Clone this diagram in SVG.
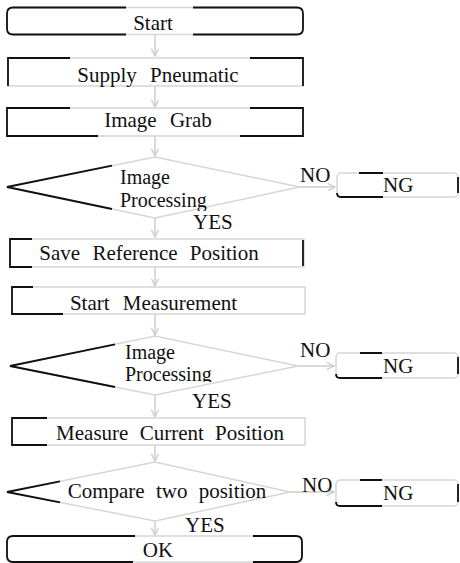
<svg xmlns="http://www.w3.org/2000/svg" width="460" height="563" viewBox="0 0 460 563">
<defs>
<marker id="chev" viewBox="0 0 10 10" refX="9" refY="5" markerWidth="9" markerHeight="9" markerUnits="userSpaceOnUse" orient="auto">
<path d="M1,1 L9,5 L1,9" fill="none" stroke="#cdcdcd" stroke-width="1.5"/>
</marker>
<clipPath id="c1"><rect x="0" y="150" width="300" height="61"/></clipPath>
<clipPath id="c2"><rect x="0" y="330" width="300" height="52"/></clipPath>
</defs>
<rect width="460" height="563" fill="#fff"/>

<g id="connectors" fill="none" stroke="#cdcdcd" stroke-width="1.5" marker-end="url(#chev)">
<line x1="155" y1="35" x2="155" y2="56"/>
<line x1="155" y1="86" x2="155" y2="107"/>
<line x1="155" y1="136" x2="155" y2="156"/>
<line x1="155" y1="218" x2="155" y2="237"/>
<line x1="155" y1="267" x2="155" y2="286"/>
<line x1="155" y1="314" x2="155" y2="335"/>
<line x1="155" y1="395" x2="155" y2="417"/>
<line x1="155" y1="445" x2="155" y2="461"/>
<line x1="155" y1="521" x2="155" y2="535"/>
<line x1="300" y1="187" x2="335" y2="187"/>
<line x1="298" y1="366" x2="334" y2="366"/>
<line x1="290" y1="492" x2="334" y2="492"/>
</g>
<g id="connector-labels" font-family="Liberation Serif" font-size="21" fill="#111">
<text x="300" y="182">NO</text>
<text x="193" y="229">YES</text>
<text x="300" y="357">NO</text>
<text x="192" y="408">YES</text>
<text x="302" y="492">NO</text>
<text x="185" y="532">YES</text>
</g>

<g id="start">
<rect x="7" y="7.5" width="296" height="27" rx="6" fill="none" stroke="#d6d6d6" stroke-width="1.5"/>
<path d="M126,7.5 H13 Q7,7.5 7,13.5 V28.5 Q7,34.5 13,34.5 H126 M193,7.5 H297 Q303,7.5 303,13.5 V28.5 Q303,34.5 297,34.5 H193" fill="none" stroke="#111" stroke-width="1.8"/>
<text font-family="Liberation Serif" font-size="21" fill="#111" text-anchor="middle" x="153" y="30">Start</text>
</g>

<g id="supply">
<rect x="8" y="58" width="295" height="28" fill="none" stroke="#d6d6d6" stroke-width="1.5"/>
<path d="M70,58 H8 V86 M250,58 H303 V86" fill="none" stroke="#111" stroke-width="1.8"/>
<text font-family="Liberation Serif" font-size="21" fill="#111" text-anchor="middle" x="158" y="82">Supply<tspan dx="8"> Pneumatic</tspan></text>
</g>

<g id="grab">
<rect x="7" y="108" width="296" height="28" fill="none" stroke="#d6d6d6" stroke-width="1.5"/>
<path d="M70,108 H7 V136 H98 M250,108 H303 V136 H240" fill="none" stroke="#111" stroke-width="1.8"/>
<text font-family="Liberation Serif" font-size="21" fill="#111" text-anchor="middle" x="158" y="127">Image<tspan dx="8"> Grab</tspan></text>
</g>

<g id="proc1">
<polygon points="7,187 155,157 300,187 155,218" fill="none" stroke="#d6d6d6" stroke-width="1.5"/>
<path d="M112,165.7 L7,187 L112,209" fill="none" stroke="#111" stroke-width="1.8"/>
<g clip-path="url(#c1)" font-family="Liberation Serif" font-size="20" fill="#111">
<text x="120" y="184">Image</text>
<text x="120" y="207">Processing</text>
</g>
</g>

<g id="ng1">
<rect x="337" y="173" width="121" height="24" rx="4" fill="none" stroke="#d6d6d6" stroke-width="1.5"/>
<path d="M359,173 H383 M337,193 Q337,197 341,197 H383 M458,177 V193" fill="none" stroke="#111" stroke-width="1.8"/>
<text font-family="Liberation Serif" font-size="21" fill="#111" x="383" y="192">NG</text>
</g>

<g id="save">
<rect x="10" y="239" width="294" height="28" fill="none" stroke="#d6d6d6" stroke-width="1.5"/>
<path d="M32,239 H10 V267 H32 M303,240 V266" fill="none" stroke="#111" stroke-width="1.8"/>
<text font-family="Liberation Serif" font-size="21" fill="#111" text-anchor="middle" x="149" y="260">Save<tspan dx="7"> Reference</tspan><tspan dx="7"> Position</tspan></text>
</g>

<g id="startmeas">
<rect x="12" y="287" width="293" height="27" fill="none" stroke="#d6d6d6" stroke-width="1.5"/>
<path d="M33,287 H12 V314 H63" fill="none" stroke="#111" stroke-width="1.8"/>
<text font-family="Liberation Serif" font-size="21" fill="#111" text-anchor="middle" x="153.5" y="310">Start<tspan dx="8"> Measurement</tspan></text>
</g>

<g id="proc2">
<polygon points="10,366 155,336 298,366 155,395" fill="none" stroke="#d6d6d6" stroke-width="1.5"/>
<path d="M115,344.3 L10,366 L115,387" fill="none" stroke="#111" stroke-width="1.8"/>
<g clip-path="url(#c2)" font-family="Liberation Serif" font-size="20" fill="#111">
<text x="125" y="359">Image</text>
<text x="125" y="381">Processing</text>
</g>
</g>

<g id="ng2">
<rect x="336" y="353" width="122" height="25" rx="4" fill="none" stroke="#d6d6d6" stroke-width="1.5"/>
<path d="M360,353 H382 M336,374 Q336,378 340,378 H382 M458,357 V374" fill="none" stroke="#111" stroke-width="1.8"/>
<text font-family="Liberation Serif" font-size="21" fill="#111" x="383" y="373">NG</text>
</g>

<g id="measure">
<rect x="12" y="418" width="293" height="27" fill="none" stroke="#d6d6d6" stroke-width="1.5"/>
<path d="M47,418 H12 V445 H47" fill="none" stroke="#111" stroke-width="1.8"/>
<text font-family="Liberation Serif" font-size="21" fill="#111" text-anchor="middle" x="170" y="440">Measure<tspan dx="6"> Current</tspan><tspan dx="6"> Position</tspan></text>
</g>

<g id="compare">
<polygon points="7,492 155,462 290,492 155,521" fill="none" stroke="#d6d6d6" stroke-width="1.5"/>
<path d="M60,481.3 L7,492 L60,502.4" fill="none" stroke="#111" stroke-width="1.8"/>
<text font-family="Liberation Serif" font-size="21" fill="#111" text-anchor="middle" x="167" y="498">Compare<tspan dx="6"> two</tspan><tspan dx="6"> position</tspan></text>
</g>

<g id="ng3">
<rect x="336" y="480" width="122" height="26" rx="4" fill="none" stroke="#d6d6d6" stroke-width="1.5"/>
<path d="M360,480 H382 M336,502 Q336,506 340,506 H382 M458,484 V502" fill="none" stroke="#111" stroke-width="1.8"/>
<text font-family="Liberation Serif" font-size="21" fill="#111" x="383" y="500">NG</text>
</g>

<g id="ok">
<rect x="7" y="536" width="295" height="26" rx="6" fill="none" stroke="#d6d6d6" stroke-width="1.5"/>
<path d="M135,536 H13 Q7,536 7,542 V556 Q7,562 13,562 H133 M253,536 H296 Q302,536 302,542 V556 Q302,562 296,562 H253" fill="none" stroke="#111" stroke-width="1.8"/>
<text font-family="Liberation Serif" font-size="21" fill="#111" text-anchor="middle" x="158" y="557">OK</text>
</g>
</svg>
